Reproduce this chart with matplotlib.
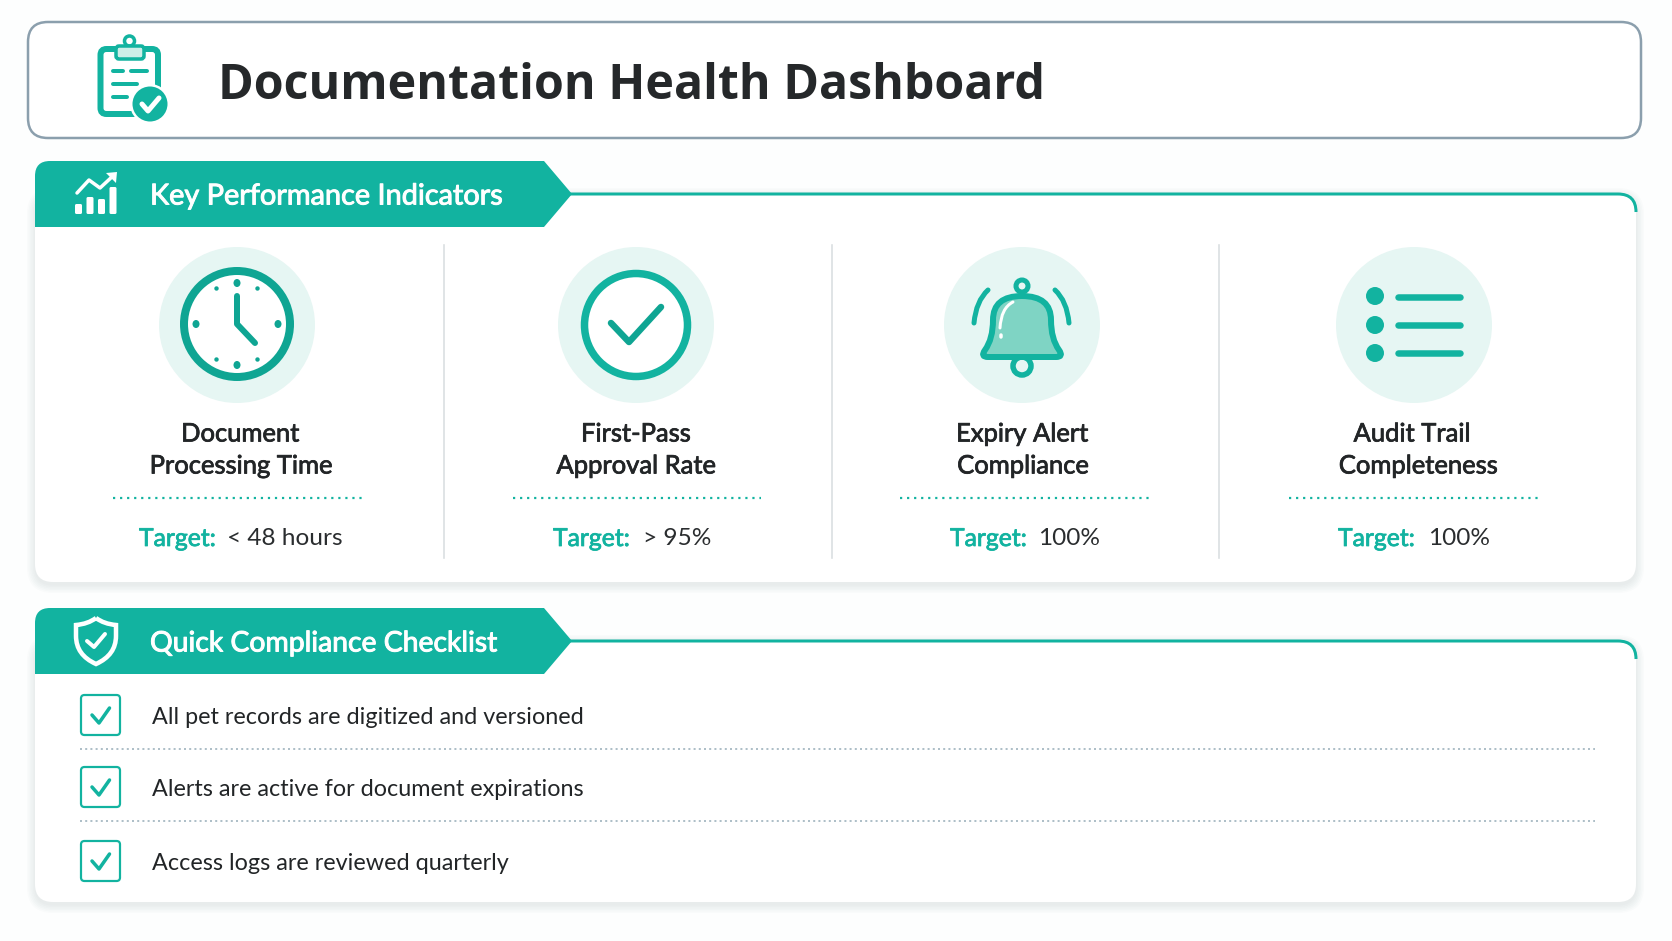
# Documentation health dashboard

import matplotlib
matplotlib.use('Agg')
import numpy as np
import matplotlib.pyplot as plt
import matplotlib.patheffects as pe
from matplotlib.patches import Circle, Ellipse, FancyBboxPatch, PathPatch, Polygon
from matplotlib.path import Path

title = 'Documentation Health Dashboard'
section_names = ['Key Performance Indicators', 'Quick Compliance Checklist']
kpi_line1 = ['Document', 'First-Pass', 'Expiry Alert', 'Audit Trail']
kpi_line2 = ['Processing Time', 'Approval Rate', 'Compliance', 'Completeness']
kpi_targets = ['< 48 hours', '> 95%', '100%', '100%']
target_label = 'Target:'
checklist = ['All pet records are digitized and versioned',
             'Alerts are active for document expirations',
             'Access logs are reviewed quarterly']

TEAL = '#12b3a0'
DARK = '#0fa593'
PALE = '#e6f6f3'
INK = '#222527'
W, H = 1672, 941
BODY = 'Lato'


def rbox(ax, x0, y0, x1, y1, r, **kw):
    p = FancyBboxPatch((x0+r, y0+r), x1-x0-2*r, y1-y0-2*r,
                       boxstyle='round,pad=%f,rounding_size=%f' % (r, r), **kw)
    ax.add_patch(p)
    return p


def px(v):
    # pixel width to points
    return v*72./100.


def semi(color, w=0.55):
    # Lato has no semibold here, so thicken the regular face a little
    return [pe.withStroke(linewidth=w, foreground=color)]


def card(ax, x0, y0, x1, y1):
    # soft shadow made of stacked translucent boxes
    for grow in np.arange(8, 0, -1.5):
        rbox(ax, x0-grow, y0-grow+3, x1+grow, y1+grow+3, 18+grow,
             fc='#5a6b70', ec='none', alpha=0.02, zorder=1)
    rbox(ax, x0, y0, x1, y1, 18, fc='white', ec='none', zorder=2)


def banner(ax, y0, y1, text, fs, tipx=572):
    ym = (y0+y1)/2.
    verts = [(35, y1), (35, y0+15), (35, y0), (50, y0), (544, y0), (tipx, ym), (544, y1), (35, y1), (35, y1)]
    codes = [Path.MOVETO, Path.LINETO, Path.CURVE3, Path.CURVE3, Path.LINETO, Path.LINETO,
             Path.LINETO, Path.LINETO, Path.CLOSEPOLY]
    ax.add_patch(PathPatch(Path(verts, codes), fc=TEAL, ec='none', zorder=4))
    # rule running off the tip and turning into the card edge
    verts = [(tipx-2, ym), (1618, ym), (1636, ym), (1636, ym+18)]
    codes = [Path.MOVETO, Path.LINETO, Path.CURVE3, Path.CURVE3]
    ax.add_patch(PathPatch(Path(verts, codes), fc='none', ec=TEAL, lw=px(3), zorder=3))
    ax.text(150, ym+2.5, text, color='white', fontsize=fs, family=BODY,
            va='center', ha='left', zorder=5, path_effects=semi('white', 0.7))


def stroke(ax, pts, color=TEAL, lw=5, z=6, **kw):
    pts = np.array(pts, dtype=float)
    ax.plot(pts[:,0], pts[:,1], color=color, lw=px(lw), solid_capstyle='round',
            solid_joinstyle='round', zorder=z, **kw)


def curve(ax, p0, c, p1, color=TEAL, lw=4, z=6):
    ax.add_patch(PathPatch(Path([p0, c, p1], [Path.MOVETO, Path.CURVE3, Path.CURVE3]),
                           fc='none', ec=color, lw=px(lw), capstyle='round', zorder=z))


def clipboard_icon(ax):
    rbox(ax, 100.5, 49, 158, 114, 6, fc='#ffffff', ec=TEAL, lw=px(6), zorder=5)
    ax.add_patch(Circle((129.5, 41), 5, fc='none', ec=TEAL, lw=px(3.5), zorder=6))
    rbox(ax, 116, 46, 144, 59, 3, fc='#cdeee8', ec=TEAL, lw=px(3.5), zorder=7)
    stroke(ax, [(113, 71), (123, 71)], lw=4)
    stroke(ax, [(131, 71), (147, 71)], lw=4)
    stroke(ax, [(113, 84), (137, 84)], lw=4)
    stroke(ax, [(113, 97), (127, 97)], lw=4)
    ax.add_patch(Circle((150, 104), 20, fc='white', ec='none', zorder=7))
    ax.add_patch(Circle((150, 104), 17.5, fc=TEAL, ec='none', zorder=8))
    stroke(ax, [(142, 104), (148, 111), (159, 98)], color='white', lw=5, z=9)


def chart_icon(ax):
    xs = [78.5, 90, 101.5, 113]
    tops = [204, 197, 199, 187]
    for x, t in zip(xs, tops):
        rbox(ax, x-3.5, t, x+3.5, 214, 1.5, fc='white', ec='none', zorder=6)
    stroke(ax, [(77, 193), (89, 180), (100, 188), (114, 175)], color='white', lw=3.5)
    ax.add_patch(Polygon([(117, 172), (106, 173), (116, 183)], fc='white', ec='none', zorder=6))


def shield_icon(ax):
    verts = [(96, 618), (104, 624), (116, 625), (116, 636), (116, 655), (96, 664),
             (76, 655), (76, 636), (76, 625), (88, 624), (96, 618)]
    codes = [Path.MOVETO, Path.CURVE3, Path.CURVE3, Path.LINETO, Path.CURVE3, Path.CURVE3,
             Path.CURVE3, Path.CURVE3, Path.LINETO, Path.CURVE3, Path.CURVE3]
    ax.add_patch(PathPatch(Path(verts, codes), fc='none', ec='white', lw=px(4.5), zorder=6))
    stroke(ax, [(87, 641), (94, 647), (105, 634)], color='white', lw=4)


def clock_icon(ax, cx, cy):
    ax.add_patch(Circle((cx, cy), 53, fc='white', ec=DARK, lw=px(8), zorder=5))
    for k in range(12):
        if k % 3 == 0:
            a = np.radians(k*30.)
            ax.add_patch(Ellipse((cx+41*np.sin(a), cy-41*np.cos(a)), 7, 8, fc=DARK, ec='none', zorder=6))
    for a in [30, 150, 210, 330]:
        a = np.radians(a)
        ax.add_patch(Circle((cx+41*np.sin(a), cy-41*np.cos(a)), 2.2, fc=DARK, ec='none', zorder=6))
    stroke(ax, [(cx, cy-28), (cx, cy), (cx+18, cy+19)], color=DARK, lw=6)


def check_icon(ax, cx, cy):
    ax.add_patch(Circle((cx, cy), 51.5, fc='white', ec=TEAL, lw=px(7.5), zorder=5))
    stroke(ax, [(cx-25, cy-2), (cx-7, cy+17), (cx+25, cy-18)], color=DARK, lw=6.5)


def bell_icon(ax, cx, cy):
    ax.add_patch(Circle((cx, cy+41), 9, fc=PALE, ec=TEAL, lw=px(5.5), zorder=5))
    ax.add_patch(Circle((cx, cy-39), 6, fc=PALE, ec=TEAL, lw=px(5), zorder=5))
    verts = [(cx-37, cy+25), (cx-29, cy+14), (cx-29, cy-5), (cx-29, cy-29), (cx, cy-29),
             (cx+29, cy-29), (cx+29, cy-5), (cx+29, cy+14), (cx+37, cy+25),
             (cx+42, cy+32), (cx+34, cy+32), (cx-34, cy+32), (cx-42, cy+32), (cx-37, cy+25), (cx-37, cy+25)]
    codes = [Path.MOVETO, Path.CURVE3, Path.CURVE3, Path.CURVE3, Path.CURVE3,
             Path.CURVE3, Path.CURVE3, Path.CURVE3, Path.CURVE3,
             Path.CURVE3, Path.CURVE3, Path.LINETO, Path.CURVE3, Path.CURVE3, Path.CLOSEPOLY]
    ax.add_patch(PathPatch(Path(verts, codes), fc='#7fd4c4', ec=TEAL, lw=px(6),
                           joinstyle='round', zorder=6))
    curve(ax, (cx-9, cy-23), (cx-21, cy-17), (cx-22, cy+3), color='white', lw=3, z=7)
    stroke(ax, [(cx-21, cy+10), (cx-21, cy+11.5)], color='white', lw=3.5, z=7)
    curve(ax, (cx-34, cy-35), (cx-46, cy-24), (cx-48, cy-2), lw=5)
    curve(ax, (cx+33, cy-35), (cx+45, cy-24), (cx+47, cy-2), lw=5)


def list_icon(ax, cx, cy):
    for dy in [-29, 0, 28]:
        ax.add_patch(Circle((cx-39, cy+dy), 9, fc=TEAL, ec='none', zorder=5))
        stroke(ax, [(cx-16, cy+dy+(1 if dy < 0 else 0)), (cx+46, cy+dy+(1 if dy < 0 else 0))], lw=6.5)


def checkbox(ax, x0, y0, x1, y1):
    rbox(ax, x0, y0, x1, y1, 3.5, fc='white', ec=TEAL, lw=px(2.2), zorder=5)
    stroke(ax, [(x0+11, y0+20), (x0+18, y0+28), (x0+28.5, y0+13)], lw=3.5)


fig = plt.figure(figsize=(W/100., H/100.), dpi=100, facecolor='#fdfefe')
ax = fig.add_axes([0, 0, 1, 1])
ax.set_xlim(0, W)
ax.set_ylim(H, 0)
ax.axis('off')

# header
rbox(ax, 28, 22, 1641, 138, 20, fc='white', ec='#8b9fad', lw=px(2.5), zorder=2)
clipboard_icon(ax)
ax.text(218, 86, title, color='#25282a', fontsize=34.8, fontweight='bold', family='Open Sans',
        va='center', ha='left', zorder=5)

# KPI section
card(ax, 35, 193, 1636, 582)
banner(ax, 161, 227, section_names[0], 20.8)
chart_icon(ax)

line1_x = [240, 636, 1022, 1412]
line2_x = [241, 636, 1023, 1418]
icon_x = [237, 636, 1022, 1414]
dot_x = [(113, 363), (513, 761), (900, 1149), (1289, 1538)]
target_x = [(139, 227), (553, 643), (950, 1038), (1338, 1428)]
divider_x = [444, 832, 1219]

for x in divider_x:
    ax.plot([x, x], [245, 558], color='#d9dee0', lw=px(1.6), zorder=3)
for i in range(4):
    ax.add_patch(Circle((icon_x[i], 325), 78, fc=PALE, ec='none', zorder=3))
    ax.text(line1_x[i], 434, kpi_line1[i], color=INK, fontsize=18.4, family=BODY,
            va='center', ha='center', zorder=5, path_effects=semi(INK))
    ax.text(line2_x[i], 466, kpi_line2[i], color=INK, fontsize=18.4, family=BODY,
            va='center', ha='center', zorder=5, path_effects=semi(INK))
    ax.plot(dot_x[i], [498, 498], color=TEAL, lw=px(2.2), linestyle=(0, (1, 2.2)), zorder=4)
    ax.text(target_x[i][0], 538.5, target_label, color=TEAL, fontsize=17.8, family=BODY,
            va='center', ha='left', zorder=5, path_effects=semi(TEAL))
    ax.text(target_x[i][1], 538.5, kpi_targets[i], color='#2a2d2f', fontsize=17.6, family=BODY,
            va='center', ha='left', zorder=5)
clock_icon(ax, 237, 324)
check_icon(ax, 636, 325)
bell_icon(ax, 1022, 325)
list_icon(ax, 1414, 325)

# checklist section
card(ax, 35, 640, 1636, 902)
banner(ax, 608, 674, section_names[1], 20.4)
shield_icon(ax)

box_y = [(695, 735), (767, 807), (841, 881)]
text_y = [717.5, 789.5, 863.5]
for i, item in enumerate(checklist):
    checkbox(ax, 81, box_y[i][0], 120, box_y[i][1])
    ax.text(152, text_y[i], item, color=INK, fontsize=16.8, family=BODY, va='center', ha='left', zorder=5)
for y in [749, 821]:
    ax.plot([80, 1595], [y, y], color='#aebfc8', lw=px(2), linestyle=(0, (1, 1.6)), zorder=4)

fig.savefig('out.png', dpi=100, facecolor=fig.get_facecolor())
